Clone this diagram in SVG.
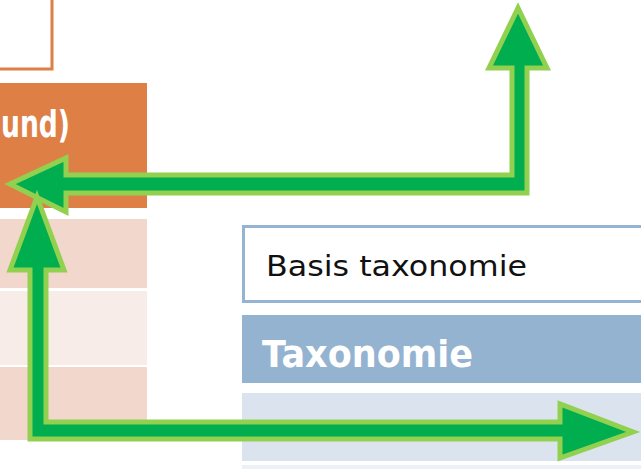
<svg xmlns="http://www.w3.org/2000/svg" width="641" height="469" viewBox="0 0 641 469">
<style>
.arrow{fill:#00AD4F;stroke:#92D050;stroke-width:5;stroke-linejoin:miter}
.hdrtxt{fill:#FFFFFF;font-family:"DejaVu Sans","Liberation Sans",sans-serif;font-weight:bold;font-size:38px}
.txt{fill:#111111;font-family:"DejaVu Sans","Liberation Sans",sans-serif;font-size:29px}
</style>
<rect width="641" height="469" fill="#FFFFFF"/>
<g id="orange-top-box">
<rect x="-10" y="-10" width="62" height="79" fill="#FFFFFF" stroke="#DE7F46" stroke-width="3"/>
</g>
<g id="orange-header">
<rect x="0" y="83" width="147" height="125" fill="#DE7F46"/>
<text class="hdrtxt" x="1" y="137" textLength="69" lengthAdjust="spacingAndGlyphs">und)</text>
</g>
<g id="orange-row-1"><rect x="0" y="219" width="147" height="69" fill="#F2D7CD"/></g>
<g id="orange-row-2"><rect x="0" y="291" width="147" height="74" fill="#F8ECE8"/></g>
<g id="orange-row-3"><rect x="0" y="367" width="147" height="73" fill="#F2D7CD"/></g>
<g id="basis-taxonomie">
<rect x="243.5" y="226.5" width="420" height="75" fill="#FFFFFF" stroke="#95B3D3" stroke-width="3"/>
<text class="txt" x="266" y="276" textLength="261" lengthAdjust="spacingAndGlyphs">Basis taxonomie</text>
</g>
<g id="taxonomie-header">
<rect x="242" y="315" width="410" height="68" fill="#94B3D1"/>
<text class="hdrtxt" x="262" y="367" textLength="211" lengthAdjust="spacingAndGlyphs">Taxonomie</text>
</g>
<g id="taxonomie-row-1"><rect x="242" y="393" width="410" height="68" fill="#DBE4EE"/></g>
<g id="taxonomie-row-2"><rect x="242" y="465" width="410" height="10" fill="#EDF1F7"/></g>
<g id="connectors">
<polygon class="arrow" points="10,184 66,158 66,175 512,175 512,68 489,68 518,8 547,68 527,68 527,193 66,193 66,212"/>
<polygon class="arrow" points="37,197 64,270 46,270 46,422 560,422 560,404 633,432 560,458 560,439 30,439 30,270 10,270"/>
</g>
</svg>
